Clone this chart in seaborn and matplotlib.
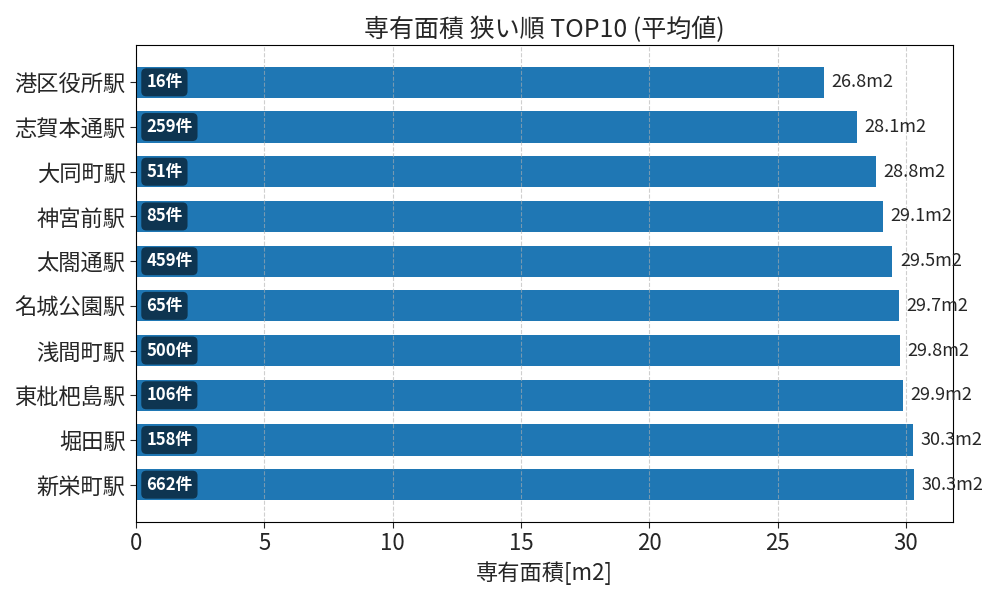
import matplotlib
matplotlib.use("Agg")
import matplotlib.pyplot as plt
import seaborn as sns
import pandas as pd

stations = ["港区役所駅", "志賀本通駅", "大同町駅", "神宮前駅", "太閤通駅",
            "名城公園駅", "浅間町駅", "東枇杷島駅", "堀田駅", "新栄町駅"]
area_mean = [26.80, 28.09, 28.83, 29.10, 29.46, 29.72, 29.76, 29.88, 30.26, 30.31]
area_labels = ["26.8", "28.1", "28.8", "29.1", "29.5", "29.7", "29.8", "29.9", "30.3", "30.3"]
counts = [16, 259, 51, 85, 459, 65, 500, 106, 158, 662]

df = pd.DataFrame({"station": stations, "area": area_mean,
                   "label": area_labels, "count": counts})

sns.set_style("white")
plt.rcParams["font.family"] = ["Noto Sans CJK JP", "DejaVu Sans"]

fig, ax = plt.subplots(figsize=(10, 6), dpi=100)
sns.barplot(data=df, x="area", y="station", orient="h", color="#1f77b4",
            saturation=1, width=0.7, linewidth=0, ax=ax)

for i, row in df.iterrows():
    ax.text(row["area"] + 0.3, i, f"{row['label']}m2", va="center", ha="left", fontsize=13)
    ax.text(0.4, i, f"{row['count']}件", va="center", ha="left", fontsize=12,
            color="white", fontweight="bold", zorder=5,
            bbox=dict(boxstyle="round,pad=0.3", facecolor="black", alpha=0.55, edgecolor="none"))

ax.set_xlim(0, max(area_mean) * 1.05)
ax.set_ylim(len(stations) - 1 + 0.835, -0.835)
ax.set_title("専有面積 狭い順 TOP10 (平均値)", fontsize=18)
ax.set_xlabel("専有面積[m2]", fontsize=16)
ax.set_ylabel("")
ax.tick_params(axis="both", labelsize=16, length=4, left=True, bottom=True)
ax.set_axisbelow("line")
ax.grid(axis="x", linestyle="--", color="#b0b0b0", alpha=0.6)
for s in ax.spines.values():
    s.set_color("black")

fig.subplots_adjust(left=0.136, right=0.953, top=0.925, bottom=0.13)
plt.savefig("out.png")
